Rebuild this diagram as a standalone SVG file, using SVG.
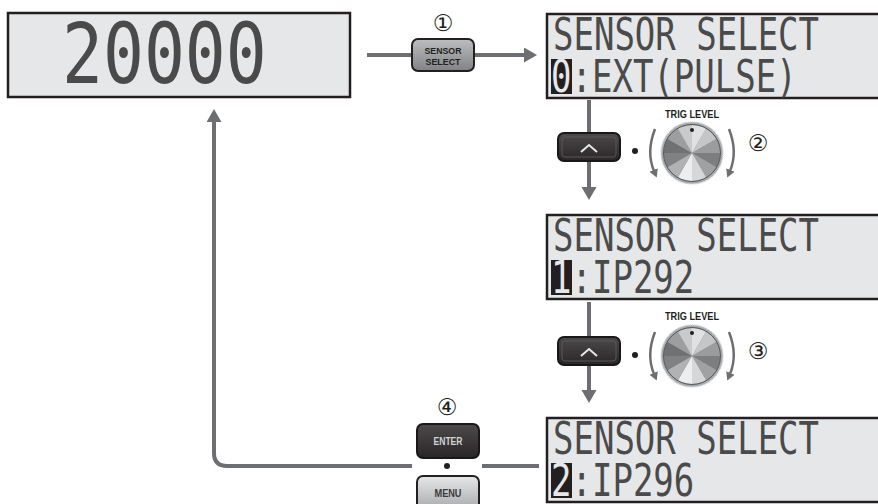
<svg xmlns="http://www.w3.org/2000/svg" xmlns:xlink="http://www.w3.org/1999/xlink" width="878" height="504" viewBox="0 0 878 504">
<style>
.lcd{fill:#e6e7e8;stroke:#231f20;stroke-width:2.5}
.dm{font-family:"DejaVu Sans Mono","Liberation Mono",monospace;fill:#4a4a4a;font-size:34px}
.inv{fill:#e6e7e8}
.blk{fill:#231f20}
.conn{fill:none;stroke:#6d6e71;stroke-width:4}
.arc{fill:none;stroke:#6d6e71;stroke-width:2.5}
.lbl{font-family:"Liberation Sans",Arial,sans-serif;font-weight:bold;text-anchor:middle}
.num{font-family:"DejaVu Sans","Noto Sans CJK JP",sans-serif;font-size:23px;fill:#231f20;text-anchor:middle}
.dot{fill:#231f20}
</style>
<defs>
<marker id="ah" markerUnits="userSpaceOnUse" markerWidth="16" markerHeight="16" refX="1" refY="7.5" orient="auto">
<path d="M0,0 L13,7.5 L0,15 z" fill="#6d6e71"/>
</marker>
<marker id="ahs" markerUnits="userSpaceOnUse" markerWidth="10" markerHeight="10" refX="1" refY="4.5" orient="auto">
<path d="M0,0 L8,4.5 L0,9 z" fill="#6d6e71"/>
</marker>
<linearGradient id="gGray" x1="0" y1="0" x2="0" y2="1">
<stop offset="0" stop-color="#bcbec0"/><stop offset="1" stop-color="#808285"/>
</linearGradient>
<linearGradient id="gDark" x1="0" y1="0" x2="0" y2="1">
<stop offset="0" stop-color="#4d4a4b"/><stop offset="1" stop-color="#2a2627"/>
</linearGradient>
<linearGradient id="gLight" x1="0" y1="0" x2="0" y2="1">
<stop offset="0" stop-color="#e6e7e8"/><stop offset="1" stop-color="#a7a9ac"/>
</linearGradient>
<path id="w" d="M0,0 L0,-28 A28,28 0 0,1 14,-24.25 z"/>
<g id="knob">
<circle r="31" fill="#a7a9ac" stroke="#d1d3d4" stroke-width="1.5" stroke-dasharray="1 1"/>
<circle r="28.5" fill="#8a8c8e"/>
<use xlink:href="#w" fill="#e0e1e2"/>
<use xlink:href="#w" fill="#c4c6c8" transform="rotate(30)"/>
<use xlink:href="#w" fill="#9a9c9e" transform="rotate(60)"/>
<use xlink:href="#w" fill="#7c7e80" transform="rotate(90)"/>
<use xlink:href="#w" fill="#9fa1a3" transform="rotate(120)"/>
<use xlink:href="#w" fill="#d6d7d8" transform="rotate(150)"/>
<use xlink:href="#w" fill="#eeeeee" transform="rotate(180)"/>
<use xlink:href="#w" fill="#b0b2b4" transform="rotate(210)"/>
<use xlink:href="#w" fill="#7f8183" transform="rotate(240)"/>
<use xlink:href="#w" fill="#6f7173" transform="rotate(270)"/>
<use xlink:href="#w" fill="#9c9ea0" transform="rotate(300)"/>
<use xlink:href="#w" fill="#c9cacb" transform="rotate(330)"/>
<circle r="28.5" fill="none" stroke="#58595b" stroke-width="1"/>
<circle cx="0" cy="-23" r="2" fill="#231f20"/>
</g>
</defs>
<rect width="878" height="504" fill="#ffffff"/>

<g id="connectors">
<line class="conn" x1="367" y1="55" x2="412" y2="55"/>
<line class="conn" x1="474" y1="55" x2="525" y2="55" marker-end="url(#ah)"/>
<line class="conn" x1="589" y1="100" x2="589" y2="188" marker-end="url(#ah)"/>
<line class="conn" x1="589" y1="302" x2="589" y2="391" marker-end="url(#ah)"/>
<line class="conn" x1="482" y1="466" x2="539" y2="466"/>
<path class="conn" d="M412,466 H227 Q214,466 214,453 V121" marker-end="url(#ah)"/>
</g>

<g id="lcd-main">
<rect class="lcd" x="8" y="13" width="342" height="84"/>
<text class="dm" transform="translate(62,83) scale(1,1.23)" style="font-size:68px">20000</text>
</g>

<g id="btn-sensor-select">
<text class="num" x="443" y="31">①</text>
<rect x="412" y="39" width="62" height="32" rx="6" fill="url(#gGray)" stroke="#231f20" stroke-width="2"/>
<text class="lbl" x="443" y="54" font-size="9.5" fill="#231f20" textLength="37" lengthAdjust="spacingAndGlyphs">SENSOR</text>
<text class="lbl" x="443" y="64.5" font-size="9.5" fill="#231f20" textLength="35" lengthAdjust="spacingAndGlyphs">SELECT</text>
</g>

<g id="lcd-0">
<rect class="lcd" x="547" y="14" width="335" height="84"/>
<rect class="blk" x="551" y="59" width="21" height="35"/>
<text class="dm" transform="translate(0,50) scale(1,1.29)"><tspan x="553" y="0">SENSOR SELECT</tspan><tspan class="inv" x="551" y="32.56">0</tspan><tspan x="571.5" y="32.56">:EXT(PULSE)</tspan></text>
</g>

<g id="step-2">
<rect x="558" y="133" width="62" height="28" rx="6" fill="url(#gDark)" stroke="#1a1718" stroke-width="2"/>
<rect x="562" y="137" width="54" height="20" rx="3" fill="none" stroke="#5a5657" stroke-width="1"/>
<polyline points="581,152 589,145 597,152" fill="none" stroke="#e6e7e8" stroke-width="2"/>
<circle class="dot" cx="635" cy="151" r="3"/>
<text class="lbl" x="692" y="118" font-size="10" fill="#231f20" textLength="54" lengthAdjust="spacingAndGlyphs">TRIG LEVEL</text>
<use xlink:href="#knob" x="692" y="153"/>
<path class="arc" d="M655,129 Q646,152 654,171" marker-end="url(#ahs)"/>
<path class="arc" d="M729,129 Q738,152 730,171" marker-end="url(#ahs)"/>
<text class="num" x="758" y="151">②</text>
</g>

<g id="lcd-1">
<rect class="lcd" x="547" y="215" width="335" height="84"/>
<rect class="blk" x="551" y="260" width="21" height="35"/>
<text class="dm" transform="translate(0,251) scale(1,1.29)"><tspan x="553" y="0">SENSOR SELECT</tspan><tspan class="inv" x="551" y="32.56">1</tspan><tspan x="571.5" y="32.56">:IP292</tspan></text>
</g>

<g id="step-3">
<rect x="558" y="337" width="62" height="28" rx="6" fill="url(#gDark)" stroke="#1a1718" stroke-width="2"/>
<rect x="562" y="341" width="54" height="20" rx="3" fill="none" stroke="#5a5657" stroke-width="1"/>
<polyline points="581,356 589,349 597,356" fill="none" stroke="#e6e7e8" stroke-width="2"/>
<circle class="dot" cx="635" cy="355" r="3"/>
<text class="lbl" x="692" y="320" font-size="10" fill="#231f20" textLength="54" lengthAdjust="spacingAndGlyphs">TRIG LEVEL</text>
<use xlink:href="#knob" x="692" y="356"/>
<path class="arc" d="M655,332 Q646,355 654,374" marker-end="url(#ahs)"/>
<path class="arc" d="M729,332 Q738,355 730,374" marker-end="url(#ahs)"/>
<text class="num" x="758" y="359">③</text>
</g>

<g id="lcd-2">
<rect class="lcd" x="547" y="418" width="335" height="84"/>
<rect class="blk" x="551" y="463" width="21" height="35"/>
<text class="dm" transform="translate(0,454) scale(1,1.29)"><tspan x="553" y="0">SENSOR SELECT</tspan><tspan class="inv" x="551" y="32.2">2</tspan><tspan x="571.5" y="32.2">:IP296</tspan></text>
</g>

<g id="step-4">
<text class="num" x="447" y="415">④</text>
<rect x="417" y="424" width="62" height="34" rx="6" fill="url(#gDark)" stroke="#1a1718" stroke-width="2"/>
<text class="lbl" x="448" y="445" font-size="10" fill="#d1d3d4" textLength="29" lengthAdjust="spacingAndGlyphs">ENTER</text>
<circle class="dot" cx="447" cy="466" r="3"/>
<rect x="417" y="476" width="62" height="34" rx="6" fill="url(#gLight)" stroke="#231f20" stroke-width="2"/>
<text class="lbl" x="448" y="497" font-size="10" fill="#3a3a3a" textLength="27" lengthAdjust="spacingAndGlyphs">MENU</text>
</g>
</svg>
